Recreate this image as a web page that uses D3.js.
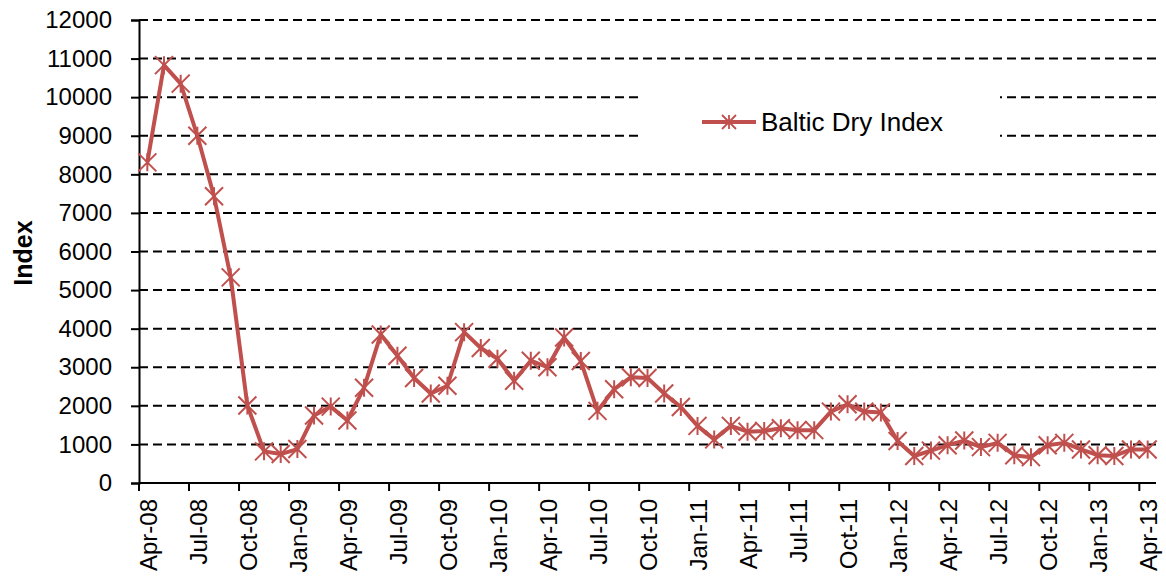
<!DOCTYPE html>
<html>
<head>
<meta charset="utf-8">
<script src="https://cdn.jsdelivr.net/npm/d3@7"></script>
<style>
  html, body { margin: 0; padding: 0; background: #fff; }
  svg { display: block; }
  text { font-family: "Liberation Sans", Arial, sans-serif; fill: #000; }
</style>
</head>
<body>
<svg id="chart" width="1166" height="581"></svg>
<script>
const months = ["Apr-08","May-08","Jun-08","Jul-08","Aug-08","Sep-08","Oct-08","Nov-08","Dec-08",
  "Jan-09","Feb-09","Mar-09","Apr-09","May-09","Jun-09","Jul-09","Aug-09","Sep-09","Oct-09","Nov-09","Dec-09",
  "Jan-10","Feb-10","Mar-10","Apr-10","May-10","Jun-10","Jul-10","Aug-10","Sep-10","Oct-10","Nov-10","Dec-10",
  "Jan-11","Feb-11","Mar-11","Apr-11","May-11","Jun-11","Jul-11","Aug-11","Sep-11","Oct-11","Nov-11","Dec-11",
  "Jan-12","Feb-12","Mar-12","Apr-12","May-12","Jun-12","Jul-12","Aug-12","Sep-12","Oct-12","Nov-12","Dec-12",
  "Jan-13","Feb-13","Mar-13","Apr-13"];
const bdi = [8310,10830,10350,9000,7430,5330,2010,820,750,
  880,1750,1980,1620,2470,3850,3300,2720,2320,2520,3910,3500,
  3220,2650,3170,3000,3770,3160,1870,2430,2740,2720,2320,1970,
  1480,1130,1480,1330,1350,1420,1370,1370,1850,2040,1850,1830,
  1090,700,840,980,1100,930,1040,720,670,980,1040,870,
  720,700,870,870];
const yTicks = [0,1000,2000,3000,4000,5000,6000,7000,8000,9000,10000,11000,12000];
const seriesName = "Baltic Dry Index";
const yTitle = "Index";

const svg = d3.select("#chart");
const pL = 139, pR = 1156, pT = 20, pB = 483;
const color = "#C0504D";

const x = d3.scaleBand().domain(months).range([pL, pR]).padding(0);
const y = d3.scaleLinear().domain([0, 12000]).range([pB, pT]);
const cx = m => x(m) + x.bandwidth() / 2;

// gridlines
svg.append("g").selectAll("line").data(yTicks.filter(v => v > 0)).join("line")
  .attr("x1", pL).attr("x2", pR)
  .attr("y1", d => y(d)).attr("y2", d => y(d))
  .attr("stroke", "#000").attr("stroke-width", 2).attr("stroke-dasharray", "9,5");

// legend background (covers gridlines)
svg.append("rect").attr("x", 640).attr("y", 84).attr("width", 360).attr("height", 72).attr("fill", "#fff");

// y axis
const yAxis = d3.axisLeft(y).tickValues(yTicks).tickSize(8).tickPadding(19).tickFormat(d3.format("d"));
const gy = svg.append("g").attr("transform", `translate(${pL},0)`).call(yAxis);
gy.select(".domain").attr("stroke", "#000").attr("stroke-width", 2);
gy.selectAll(".tick line").attr("stroke", "#000").attr("stroke-width", 2);
gy.selectAll(".tick text").attr("font-size", 24).attr("font-family", "Liberation Sans, Arial, sans-serif");

// x axis: ticks at category boundaries every 3 months
const tickIdx = d3.range(0, months.length, 3);
const gx = svg.append("g");
gx.append("line").attr("x1", pL).attr("x2", pR).attr("y1", pB).attr("y2", pB)
  .attr("stroke", "#000").attr("stroke-width", 2);
gx.selectAll("line.tk").data(tickIdx).join("line").attr("class", "tk")
  .attr("x1", i => x(months[i])).attr("x2", i => x(months[i]))
  .attr("y1", pB).attr("y2", pB + 8)
  .attr("stroke", "#000").attr("stroke-width", 2);
gx.selectAll("text").data(tickIdx).join("text")
  .attr("transform", i => `translate(${cx(months[i]) + 1},${pB + 16}) rotate(-90)`)
  .attr("text-anchor", "end").attr("dy", "0.35em")
  .attr("font-size", 24)
  .text(i => months[i]);

// y title
svg.append("text").attr("transform", "translate(23,253) rotate(-90)")
  .attr("text-anchor", "middle").attr("dy", "0.35em")
  .attr("font-size", 25).attr("font-weight", "bold").text(yTitle);

// line
const line = d3.line().x((d, i) => cx(months[i])).y(d => y(d));
svg.append("path").datum(bdi).attr("d", line)
  .attr("fill", "none").attr("stroke", color).attr("stroke-width", 4).attr("stroke-linejoin", "round");

function star(r) {
  return `M${-r},${-r}L${r},${r}M${-r},${r}L${r},${-r}M0,${-r}L0,${r}`;
}
svg.append("g").selectAll("path").data(bdi).join("path")
  .attr("transform", (d, i) => `translate(${cx(months[i])},${y(d)})`)
  .attr("d", star(9)).attr("fill", "none").attr("stroke", color).attr("stroke-width", 2);

// legend
const lg = svg.append("g");
lg.append("line").attr("x1", 702).attr("x2", 756).attr("y1", 122).attr("y2", 122)
  .attr("stroke", color).attr("stroke-width", 4);
lg.append("path").attr("transform", "translate(729,122)").attr("d", star(7))
  .attr("fill", "none").attr("stroke", color).attr("stroke-width", 1.8);
lg.append("text").attr("x", 761).attr("y", 122).attr("dy", "0.35em").attr("font-size", 26).text(seriesName);
</script>
</body>
</html>
